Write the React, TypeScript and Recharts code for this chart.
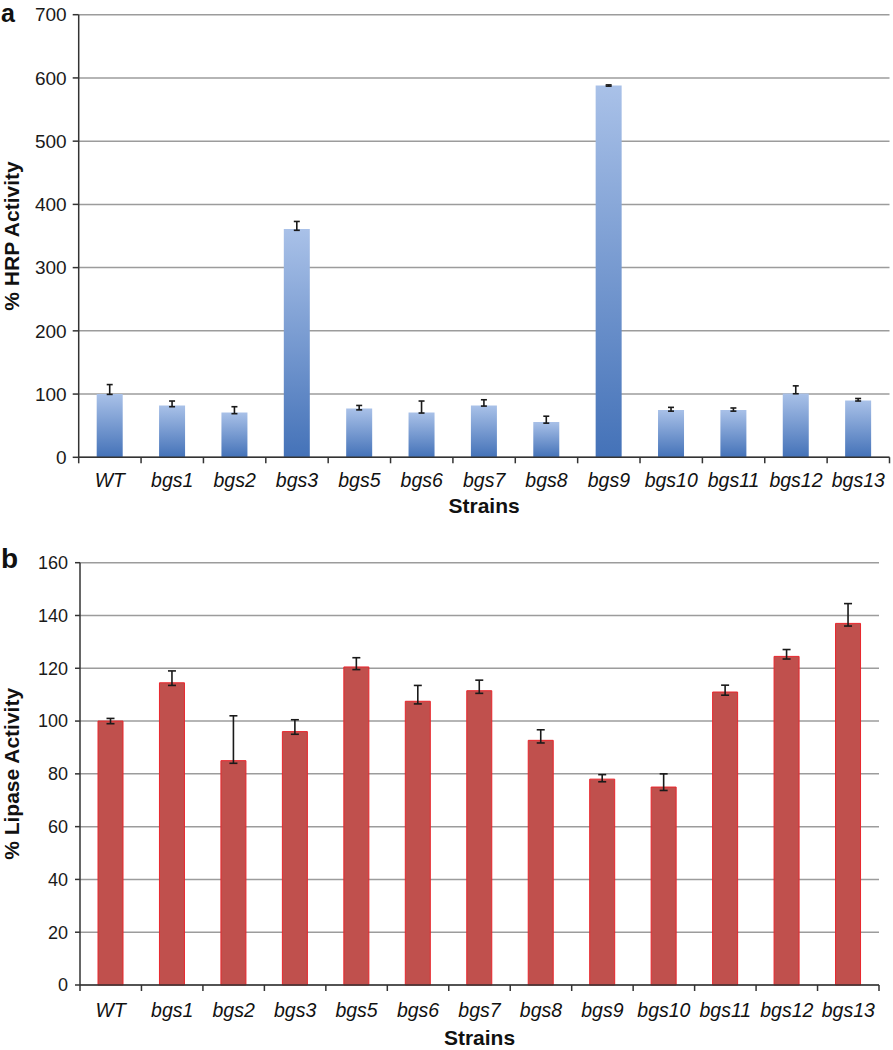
import React from 'react';
import { BarChart, Bar, XAxis, YAxis, CartesianGrid, ErrorBar } from 'recharts';

// strains on the x axis (same for both panels)
const strains = ['WT', 'bgs1', 'bgs2', 'bgs3', 'bgs5', 'bgs6', 'bgs7', 'bgs8', 'bgs9', 'bgs10', 'bgs11', 'bgs12', 'bgs13'];

// panel a: % HRP activity
const hrpValues = [100, 82, 71, 361, 77, 71, 82, 56, 588, 75, 75, 101, 90];
const hrpErrLow = [0.5, 2, 2, 2, 2, 1, 1, 2, 1, 2, 2, 0.5, 1];
const hrpErrHigh = [15, 7, 9, 12, 5, 18, 9, 9, 1, 4, 3, 12, 3];
const hrpTicks = [0, 100, 200, 300, 400, 500, 600, 700];

// panel b: % lipase activity
const lipaseValues = [100, 114.5, 85, 96, 120.5, 107.5, 111.5, 92.7, 78, 75, 111, 124.5, 137];
const lipaseErrLow = [1, 1, 1, 1, 1, 1, 1, 1, 1, 1.3, 1.2, 1, 1];
const lipaseErrHigh = [1, 4.5, 17, 4.5, 3.5, 6, 4, 4, 1.7, 5, 2.6, 2.6, 7.5];
const lipaseTicks = [0, 20, 40, 60, 80, 100, 120, 140, 160];

const hrpData = strains.map((s, i) => ({ strain: s, value: hrpValues[i], err: [hrpErrLow[i], hrpErrHigh[i]] }));
const lipaseData = strains.map((s, i) => ({ strain: s, value: lipaseValues[i], err: [lipaseErrLow[i], lipaseErrHigh[i]] }));

const FONT = '"Liberation Sans", Arial, Helvetica, sans-serif';
const AXIS = '#333';

// tick label plus tick marks between categories
const strainTick = (band: number, fontSize: number, baseline: number) => (props: any) => {
  const { x, y, payload, index } = props;
  const half = band / 2;
  return (
    <g>
      <line x1={x - half} y1={y} x2={x - half} y2={y + 6} stroke={AXIS} strokeWidth={1.5} />
      {index === strains.length - 1 && (
        <line x1={x + half} y1={y} x2={x + half} y2={y + 6} stroke={AXIS} strokeWidth={1.5} />
      )}
      <text x={x} y={y + baseline} textAnchor="middle" fontStyle="italic" fontSize={fontSize} fill="#111">
        {payload.value}
      </text>
    </g>
  );
};

const App = () => {
  const wA = 893, hA = 525, yAxisA = 78.7, rightA = 3.5;
  const bandA = (wA - yAxisA - rightA) / strains.length;
  const wB = 893, hB = 525, yAxisB = 80, rightB = 14;
  const bandB = (wB - yAxisB - rightB) / strains.length;

  return (
    <div style={{ position: 'absolute', left: 0, top: 0, width: 893, height: 1050, fontFamily: FONT, background: '#fff' }}>
      <BarChart width={wA} height={hA} data={hrpData} margin={{ top: 14.7, right: rightA, left: 0, bottom: 0 }}>
        <defs>
          <linearGradient id="hrpGrad" x1="0" y1="0" x2="0" y2="1">
            <stop offset="0%" stopColor="#a9c1e8" />
            <stop offset="100%" stopColor="#4472b8" />
          </linearGradient>
        </defs>
        <CartesianGrid vertical={false} stroke="#9c9c9c" strokeWidth={1.5} />
        <XAxis
          dataKey="strain"
          interval={0}
          height={hA - 457.3}
          tickSize={0}
          tickMargin={0}
          tickLine={false}
          axisLine={{ stroke: AXIS, strokeWidth: 1.5 }}
          tick={strainTick(bandA, 19.5, 29.5)}
          label={{ value: 'Strains', position: 'insideBottom', offset: 12, style: { fontWeight: 'bold', fontSize: 21, fill: '#111' } }}
        />
        <YAxis
          width={yAxisA}
          domain={[0, 700]}
          ticks={hrpTicks}
          interval={0}
          tickSize={6}
          tickMargin={6}
          axisLine={{ stroke: AXIS, strokeWidth: 1.5 }}
          tickLine={{ stroke: AXIS, strokeWidth: 1.5 }}
          tick={{ fontSize: 19, fill: '#1a1a1a' }}
          label={{ value: '% HRP Activity', angle: -90, position: 'insideLeft', offset: 12, style: { textAnchor: 'middle', fontWeight: 'bold', fontSize: 21, fill: '#111' } }}
        />
        <Bar dataKey="value" fill="url(#hrpGrad)" barSize={26} isAnimationActive={false}>
          <ErrorBar dataKey="err" width={3} stroke="#1a1a1a" strokeWidth={1.6} isAnimationActive={false} />
        </Bar>
      </BarChart>

      <BarChart width={wB} height={hB} data={lipaseData} margin={{ top: 562.7 - hA, right: rightB, left: 0, bottom: 0 }}>
        <CartesianGrid vertical={false} stroke="#9c9c9c" strokeWidth={1.5} />
        <XAxis
          dataKey="strain"
          interval={0}
          height={1050 - 985}
          tickSize={0}
          tickMargin={0}
          tickLine={false}
          axisLine={{ stroke: AXIS, strokeWidth: 1.5 }}
          tick={strainTick(bandB, 19.5, 31.5)}
          label={{ value: 'Strains', position: 'insideBottom', offset: 5, style: { fontWeight: 'bold', fontSize: 21, fill: '#111' } }}
        />
        <YAxis
          width={yAxisB}
          domain={[0, 160]}
          ticks={lipaseTicks}
          interval={0}
          tickSize={5}
          tickMargin={7}
          axisLine={{ stroke: AXIS, strokeWidth: 1.5 }}
          tickLine={{ stroke: AXIS, strokeWidth: 1.5 }}
          tick={{ fontSize: 18, fill: '#1a1a1a' }}
          label={{ value: '% Lipase Activity', angle: -90, position: 'insideLeft', offset: 12, style: { textAnchor: 'middle', fontWeight: 'bold', fontSize: 21, fill: '#111' } }}
        />
        <Bar dataKey="value" fill="#c0504d" stroke="#e8262c" strokeWidth={1} barSize={25} isAnimationActive={false}>
          <ErrorBar dataKey="err" width={4} stroke="#1a1a1a" strokeWidth={1.6} isAnimationActive={false} />
        </Bar>
      </BarChart>

      <svg width={893} height={1050} style={{ position: 'absolute', left: 0, top: 0, pointerEvents: 'none' }}>
        <text x={1} y={22} fontSize={25} fontWeight="bold" fill="#111">a</text>
        <text x={1} y={568} fontSize={28} fontWeight="bold" fill="#111">b</text>
      </svg>
    </div>
  );
};

export default App;
